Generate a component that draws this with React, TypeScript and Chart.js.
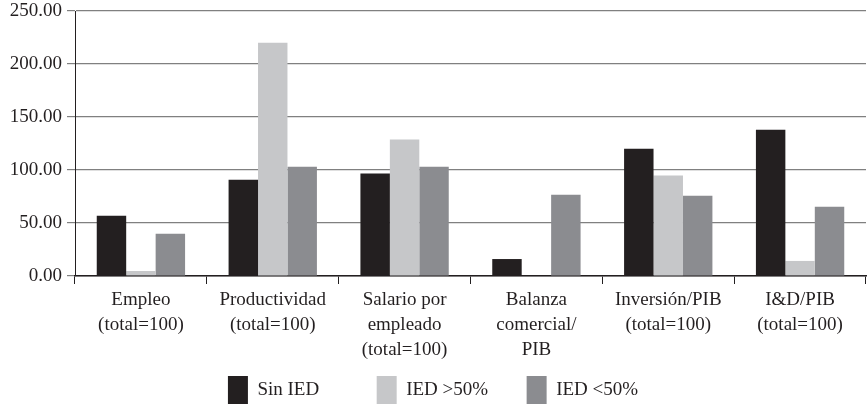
import React, { useEffect, useRef } from "react";
import { Chart, registerables } from "chart.js";

Chart.register(...registerables);

const categories: string[][] = [
  ["Empleo", "(total=100)"],
  ["Productividad", "(total=100)"],
  ["Salario por", "empleado", "(total=100)"],
  ["Balanza", "comercial/", "PIB"],
  ["Inversión/PIB", "(total=100)"],
  ["I&D/PIB", "(total=100)"],
];

const seriesNames = ["Sin IED", "IED >50%", "IED <50%"];
const sinIed: (number | null)[] = [56.8, 90.9, 96.6, 16.0, 120.0, 138.0];
const iedMayor50: (number | null)[] = [4.7, 220.0, 128.8, null, 94.7, 14.2];
const iedMenor50: (number | null)[] = [39.8, 103.0, 103.0, 76.7, 75.8, 65.3];
const yTicks = [0, 50, 100, 150, 200, 250];

const colors = ["#231f20", "#c6c7c9", "#8b8c90"];
const FONT = "'Liberation Serif', 'Times New Roman', serif";
const FONT_SIZE = 19;

export default function App() {
  const ref = useRef<HTMLCanvasElement | null>(null);

  useEffect(() => {
    if (!ref.current) return;
    const chart = new Chart(ref.current, {
      type: "bar",
      data: {
        labels: categories,
        datasets: [sinIed, iedMayor50, iedMenor50].map((d, i) => ({
          label: seriesNames[i],
          data: d,
          backgroundColor: colors[i],
          borderWidth: 0,
          categoryPercentage: 0.67,
          barPercentage: 1,
        })),
      },
      options: {
        animation: false,
        responsive: false,
        maintainAspectRatio: false,
        layout: { padding: { top: 11, right: 1, bottom: 5, left: 0 } },
        plugins: {
          tooltip: { enabled: false },
          legend: {
            position: "bottom",
            labels: {
              boxWidth: 20,
              boxHeight: 28,
              padding: 10,
              color: "#231f20",
              font: { family: FONT, size: FONT_SIZE },
              generateLabels: (c: any) => {
                const items = Chart.defaults.plugins.legend.labels.generateLabels(c);
                const ctx = c.ctx;
                ctx.save();
                ctx.font = `${FONT_SIZE}px ${FONT}`;
                items.forEach((it: any, i: number) => {
                  if (i < items.length - 1) {
                    let t = it.text;
                    while (ctx.measureText(t + " ").width <= 111) t += " ";
                    it.text = t;
                  }
                });
                ctx.restore();
                return items;
              },
            },
          },
        },
        scales: {
          x: {
            grid: {
              offset: true,
              drawOnChartArea: false,
              drawTicks: true,
              tickLength: 8,
              color: "#231f20",
            },
            border: { color: "#231f20", width: 1.5 },
            ticks: {
              color: "#231f20",
              font: { family: FONT, size: FONT_SIZE, lineHeight: 1.3 },
              maxRotation: 0,
              autoSkip: false,
              padding: 4,
            },
            afterFit: (scale: any) => {
              scale.height = 90;
            },
          },
          y: {
            min: 0,
            max: 250,
            afterBuildTicks: (scale: any) => {
              scale.ticks = yTicks.map((v) => ({ value: v }));
            },
            ticks: {
              color: "#231f20",
              font: { family: FONT, size: FONT_SIZE },
              padding: 5,
              callback: (v: any) => Number(v).toFixed(2),
            },
            grid: {
              color: "#808080",
              lineWidth: 1.2,
              drawTicks: true,
              tickLength: 8,
            },
            border: { color: "#231f20", width: 1 },
            afterFit: (scale: any) => {
              scale.width = 75;
              scale.paddingTop = 0;
              scale.paddingBottom = 0;
            },
          },
        },
      },
    });
    return () => chart.destroy();
  }, []);

  return (
    <div style={{ position: "fixed", left: 0, top: 0, width: 867, height: 419, background: "#fff" }}>
      <canvas ref={ref} width={867} height={419} style={{ display: "block" }} />
    </div>
  );
}
